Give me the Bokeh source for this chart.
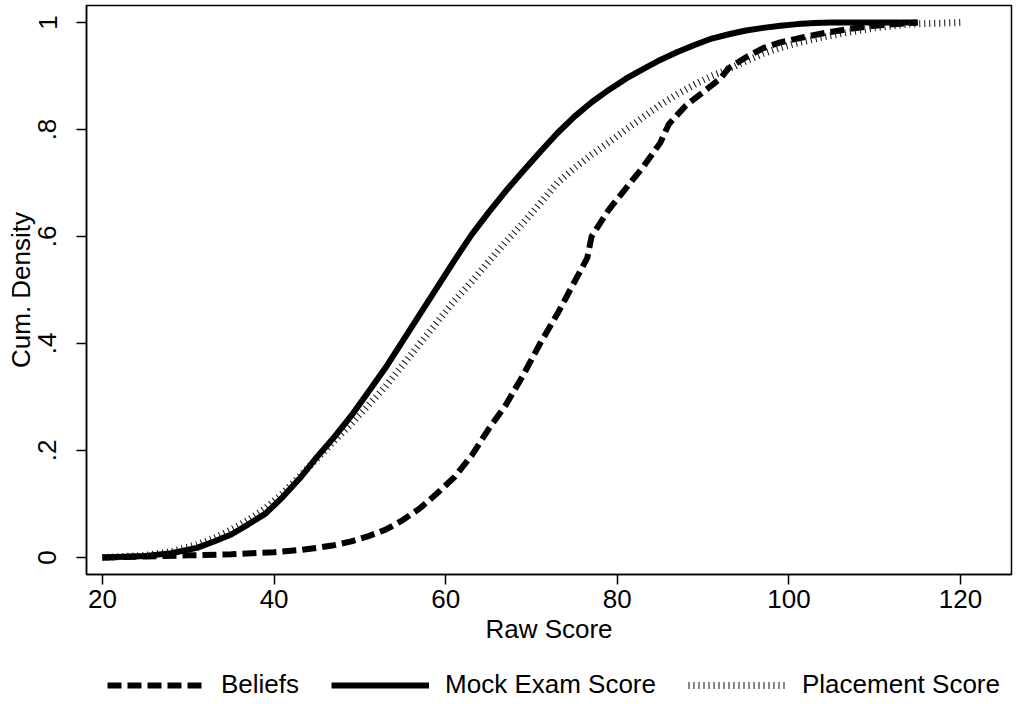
from bokeh.plotting import figure
from bokeh.layouts import column
from bokeh.models import Range1d, FixedTicker, Legend, LegendItem
from bokeh.embed import file_html
from bokeh.resources import INLINE

# ---- data ----
beliefs_x = [20, 25, 30, 35, 40, 43, 45, 47, 49, 51, 53, 55, 57, 59, 61, 63, 65, 67, 69, 71,
             73, 75, 76.5, 77, 79, 81, 83, 85, 86, 88, 90, 92, 93, 95, 97, 99, 101, 104, 107, 110, 115]
beliefs_y = [0, 0.002, 0.004, 0.006, 0.01, 0.014, 0.018, 0.023, 0.03, 0.04, 0.052, 0.07, 0.092, 0.12,
             0.15, 0.19, 0.24, 0.285, 0.34, 0.4, 0.455, 0.515, 0.56, 0.6, 0.65, 0.69, 0.73, 0.775, 0.81,
             0.845, 0.87, 0.895, 0.915, 0.935, 0.952, 0.963, 0.97, 0.98, 0.988, 0.994, 1.0]

mock_x = [20, 25, 28, 31, 33, 35, 37, 39, 41, 43, 45, 47, 49, 51, 53, 55, 57, 59, 61, 63, 65, 67,
          69, 71, 73, 75, 77, 79, 81, 83, 85, 87, 89, 91, 93, 95, 97, 99, 101, 103, 105, 108, 111, 115]
mock_y = [0, 0.003, 0.008, 0.018, 0.03, 0.043, 0.062, 0.082, 0.113, 0.148, 0.188, 0.225, 0.265, 0.31,
          0.355, 0.405, 0.455, 0.505, 0.555, 0.603, 0.645, 0.685, 0.722, 0.758, 0.793, 0.824, 0.851, 0.874,
          0.895, 0.913, 0.93, 0.945, 0.958, 0.97, 0.978, 0.985, 0.99, 0.994, 0.997, 0.999, 1.0, 1.0, 1.0, 1.0]

place_x = [20, 25, 28, 31, 33, 35, 37, 39, 41, 43, 45, 47, 49, 51, 53, 55, 57, 59, 61, 63, 65, 67,
           69, 71, 73, 75, 77, 79, 81, 83, 85, 87, 89, 91, 93, 95, 97, 99, 101, 104, 107, 110, 114, 120]
place_y = [0, 0.004, 0.011, 0.024, 0.036, 0.052, 0.07, 0.092, 0.12, 0.152, 0.185, 0.218, 0.25, 0.285,
           0.32, 0.36, 0.4, 0.44, 0.48, 0.515, 0.553, 0.59, 0.625, 0.662, 0.7, 0.728, 0.753, 0.776, 0.8,
           0.823, 0.846, 0.866, 0.884, 0.9, 0.913, 0.928, 0.942, 0.953, 0.962, 0.973, 0.982, 0.99, 0.997, 1.0]

x_ticks = [20, 40, 60, 80, 100, 120]
y_ticks = [0, 0.2, 0.4, 0.6, 0.8, 1]
y_tick_labels = ["0", ".2", ".4", ".6", ".8", "1"]
series_names = ["Beliefs", "Mock Exam Score", "Placement Score"]

FONT = "Liberation Sans"
FS = "26px"

STYLES = [dict(line_color="black", line_width=6, line_dash="14 6"),
          dict(line_color="black", line_width=6),
          dict(line_color="#111111", line_width=7, line_dash="1 4", line_cap="butt")]
SERIES = [(beliefs_x, beliefs_y), (mock_x, mock_y), (place_x, place_y)]

# ---------------- main plot ----------------
p = figure(width=1016, height=660, output_backend="svg", toolbar_location=None,
           x_range=Range1d(18.135, 125.94), y_range=Range1d(-0.0318, 1.0318),
           min_border_left=86, min_border_right=5, min_border_top=5, min_border_bottom=86)
p.background_fill_color = "white"
p.border_fill_color = "white"
p.outline_line_color = "black"
p.outline_line_width = 1.5
p.xgrid.visible = False
p.ygrid.visible = False

for (xs, ys), st in zip(SERIES, STYLES):
    p.line(xs, ys, **st)

for ax in (p.xaxis[0], p.yaxis[0]):
    ax.axis_line_color = "black"
    ax.axis_line_width = 1.5
    ax.major_tick_line_color = "black"
    ax.major_tick_line_width = 1.5
    ax.major_tick_out = 10
    ax.major_tick_in = 0
    ax.minor_tick_line_color = None
    ax.major_label_text_font = FONT
    ax.major_label_text_font_size = FS
    ax.major_label_text_color = "black"
    ax.axis_label_text_font = FONT
    ax.axis_label_text_font_size = FS
    ax.axis_label_text_font_style = "normal"
    ax.axis_label_text_color = "black"

p.xaxis.ticker = FixedTicker(ticks=x_ticks)
p.xaxis.axis_label = "Raw Score"
p.xaxis.major_label_standoff = 5
p.xaxis.axis_label_standoff = 3

p.yaxis.ticker = FixedTicker(ticks=y_ticks)
p.yaxis.major_label_overrides = {t: l for t, l in zip(y_ticks, y_tick_labels)}
p.yaxis.major_label_orientation = "vertical"
p.yaxis.axis_label = "Cum. Density"
p.yaxis.major_label_standoff = 20
p.yaxis.axis_label_standoff = 0

# ---------------- legend strip ----------------
lg = figure(width=1016, height=44, output_backend="svg", toolbar_location=None,
            x_range=p.x_range, y_range=p.y_range,
            min_border_left=86, min_border_right=5, min_border_top=0, min_border_bottom=0)
lg.axis.visible = False
lg.xgrid.visible = False
lg.ygrid.visible = False
lg.outline_line_color = None
lg.background_fill_color = "white"
lg.border_fill_color = "white"

proxies = []
for (xs, ys), st in zip(SERIES, STYLES):
    r = lg.line(xs, ys, **st)
    r.visible = False
    proxies.append(r)

legend = Legend(items=[LegendItem(label=n, renderers=[r]) for n, r in zip(series_names, proxies)],
                orientation="horizontal", location=(21, 4),
                glyph_width=98, glyph_height=28, label_height=28, label_standoff=16, spacing=32,
                padding=0, margin=0, border_line_color=None, background_fill_alpha=0,
                inactive_fill_alpha=0,
                label_text_font=FONT, label_text_font_size=FS, label_text_color="black")
lg.add_layout(legend, "center")

layout = column(p, lg, spacing=0)
open("out.html", "w").write(file_html(layout, INLINE))
